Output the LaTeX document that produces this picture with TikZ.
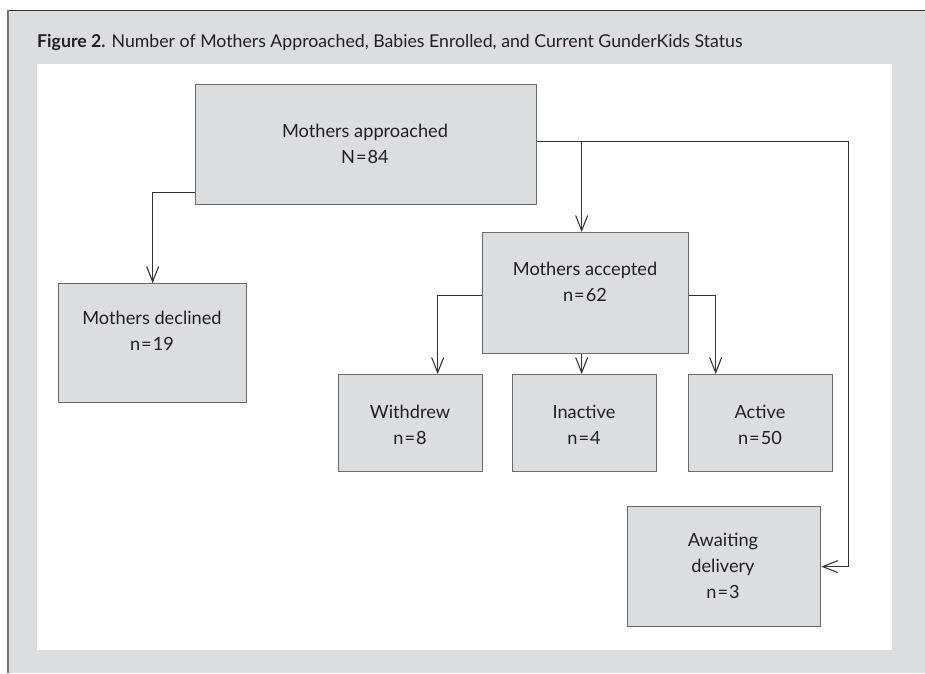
\documentclass[tikz,border=0pt]{standalone}
\usepackage{fontspec}
\setmainfont{Lato}
\usetikzlibrary{arrows.meta,calc}
\definecolor{panelgray}{HTML}{DCDDDF}
\definecolor{boxgray}{HTML}{DCDDDF}
\definecolor{boxedge}{HTML}{6A6A6A}
\definecolor{linecol}{HTML}{333333}
\definecolor{textcol}{HTML}{231F20}
\definecolor{leftrule}{HTML}{777777}
\newcommand{\eqsign}{\kern1pt=\kern1pt}
\begin{document}
\begin{tikzpicture}[x=1pt,y=-1pt,
  box/.style={draw=boxedge,fill=boxgray,line width=1.3pt,inner sep=0pt,anchor=north west},
  lbl/.style={align=center,font=\fontsize{18.2}{26}\selectfont,text=textcol,inner sep=0pt},
  conn/.style={draw=linecol,line width=1.1pt},
  arr/.style={conn,-{Straight Barb[length=15pt,width=12pt]}}]
\useasboundingbox (0,0) rectangle (925,673);
\fill[white] (0,0) rectangle (925,673);
\fill[panelgray] (8,10) rectangle (925,673);
\fill[white] (37,64) rectangle (892,650);
\draw[linecol,line width=1pt] (8,10) -- (925,10);
\draw[leftrule,line width=1.5pt] (8,10) -- (8,673);
\node[anchor=base west,font=\fontsize{17.7}{20}\selectfont,text=textcol,inner sep=0pt] (title) at (37,47)
  {\textbf{Figure 2.} Number of Mothers Approached, Babies Enrolled, and Current GunderKids Status};
% boxes
\node[box,minimum width=341pt,minimum height=120pt] (app) at (195,84) {};
\node[box,minimum width=188pt,minimum height=119pt] (dec) at (58,283) {};
\node[box,minimum width=206pt,minimum height=121pt] (acc) at (482,232) {};
\node[box,minimum width=144pt,minimum height=97pt] (wd) at (338,374) {};
\node[box,minimum width=144pt,minimum height=97pt] (ina) at (512,374) {};
\node[box,minimum width=144pt,minimum height=97pt] (act) at (688,374) {};
\node[box,minimum width=193pt,minimum height=120pt] (aw) at (627,506) {};
% labels
\node[lbl] (appt) at (365,144) {Mothers approached\\N\eqsign 84};
\node[lbl] (dect) at (152,331) {Mothers declined\\n\eqsign 19};
\node[lbl] (acct) at (585,282) {Mothers accepted\\n\eqsign 62};
\node[lbl] (wdt) at (410,425) {Withdrew\\n\eqsign 8};
\node[lbl] (inat) at (584,425) {Inactive\\n\eqsign 4};
\node[lbl] (actt) at (760,425) {Active\\n\eqsign 50};
\node[lbl] (awt) at (723,566) {Awaiting\\delivery\\n\eqsign 3};
% connectors
\draw[arr] ([yshift=13pt]app.south west) -| (dec.north);
\draw[arr] ([yshift=3pt]app.east) -| ([xshift=-4pt]acc.north);
\draw[arr] ([yshift=3pt]app.east) -| ([xshift=27pt]aw.east) -- (aw.east);
\draw[arr] ([yshift=-2.5pt]acc.west) -| ([xshift=27pt]wd.north);
\draw[arr] ([xshift=-4pt]acc.south) -- ([xshift=-3pt]ina.north);
\draw[arr] ([yshift=-2.5pt]acc.east) -| ([xshift=-45pt]act.north);
\end{tikzpicture}
\end{document}
